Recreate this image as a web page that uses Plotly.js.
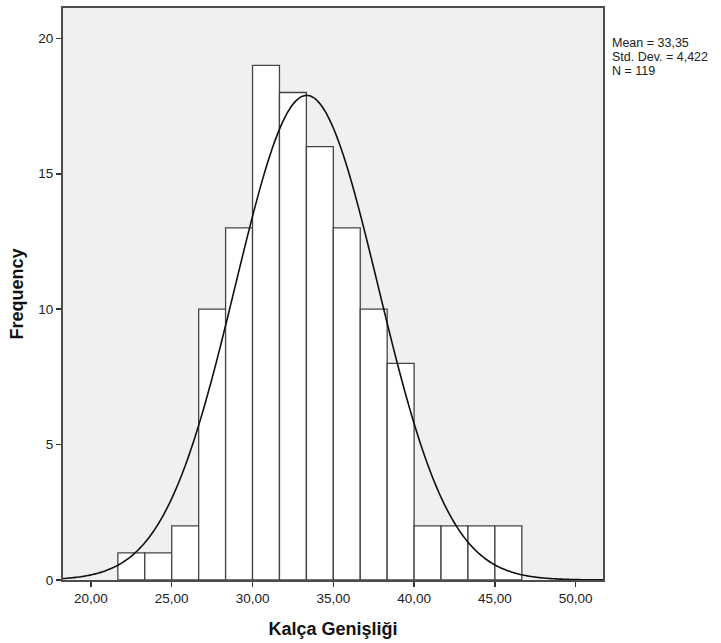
<!DOCTYPE html>
<html>
<head>
<meta charset="utf-8">
<script src="https://cdn.plot.ly/plotly-3.0.1.min.js"></script>
<style>
  html, body { margin: 0; padding: 0; background: #ffffff; }
  #chart { width: 721px; height: 643px; }
</style>
</head>
<body>
<div id="chart"></div>
<script>
// ---- data ----
const binStart = 21 + 2 / 3;          // left edge of first bin
const binWidth = 5 / 3;               // bin width
const counts = [1, 1, 2, 10, 13, 19, 18, 16, 13, 10, 8, 2, 2, 2, 2];
const statMean = 33.35;
const statSD = 4.422;
const statN = 119;
const statLabels = ["Mean = 33,35", "Std. Dev. = 4,422", "N = 119"];
const xTickVals = [20, 25, 30, 35, 40, 45, 50];
const xTickText = ["20,00", "25,00", "30,00", "35,00", "40,00", "45,00", "50,00"];
const yTickVals = [0, 5, 10, 15, 20];
const xTitle = "Kalça Genişliği";
const yTitle = "Frequency";
const xRange = [18.27, 51.69];
const yRange = [0, 21.12];

// bin centres
const centers = counts.map((c, i) => binStart + binWidth * (i + 0.5));

// fitted normal curve from stated mean / sd / N
const curveX = [];
const curveY = [];
const steps = 300;
for (let k = 0; k <= steps; k++) {
  const x = xRange[0] + (xRange[1] - xRange[0]) * k / steps;
  const z = (x - statMean) / statSD;
  curveX.push(x);
  curveY.push(statN * binWidth / (statSD * Math.sqrt(2 * Math.PI)) * Math.exp(-0.5 * z * z));
}

const font = "Liberation Sans, Arial, sans-serif";

const traces = [
  {
    type: "bar",
    x: centers,
    y: counts,
    width: counts.map(() => binWidth),
    marker: { color: "#ffffff", line: { color: "#444444", width: 1.3 } },
    hoverinfo: "x+y",
    showlegend: false
  },
  {
    type: "scatter",
    mode: "lines",
    x: curveX,
    y: curveY,
    line: { color: "#111111", width: 1.6, shape: "spline" },
    hoverinfo: "skip",
    showlegend: false,
    cliponaxis: true
  }
];

const layout = {
  width: 721,
  height: 643,
  paper_bgcolor: "#ffffff",
  plot_bgcolor: "#f0f0f0",
  margin: { l: 63, r: 118, t: 8, b: 63 },
  bargap: 0,
  showlegend: false,
  font: { family: font, color: "#222222", size: 13.5 },
  xaxis: {
    range: xRange,
    tickmode: "array",
    tickvals: xTickVals,
    ticktext: xTickText,
    ticks: "outside",
    ticklen: 5,
    tickwidth: 1.5,
    tickcolor: "#333333",
    showline: true,
    linecolor: "#4d4d4d",
    linewidth: 2,
    mirror: true,
    showgrid: false,
    zeroline: false,
    tickfont: { family: font, size: 13.5, color: "#222222" },
    title: {
      text: xTitle,
      font: { family: font, size: 18, color: "#111111", weight: "bold" },
      standoff: 17
    }
  },
  yaxis: {
    range: yRange,
    tickmode: "array",
    tickvals: yTickVals,
    ticks: "outside",
    ticklen: 5,
    tickwidth: 1.5,
    tickcolor: "#333333",
    showline: true,
    linecolor: "#4d4d4d",
    linewidth: 2,
    mirror: true,
    showgrid: false,
    zeroline: false,
    tickfont: { family: font, size: 13.5, color: "#222222" },
    title: {
      text: yTitle,
      font: { family: font, size: 18, color: "#111111", weight: "bold" },
      standoff: 10
    }
  },
  annotations: statLabels.map((t, i) => ({
    text: t,
    xref: "paper",
    yref: "paper",
    x: (611 - 63) / (721 - 63 - 118),
    y: (580 - (43 + 14 * i)) / (643 - 8 - 63),
    xanchor: "left",
    yanchor: "middle",
    showarrow: false,
    align: "left",
    borderpad: 0,
    font: { family: font, size: 12.5, color: "#222222" }
  }))
};

Plotly.newPlot("chart", traces, layout, { displayModeBar: false, staticPlot: true });
</script>
</body>
</html>
